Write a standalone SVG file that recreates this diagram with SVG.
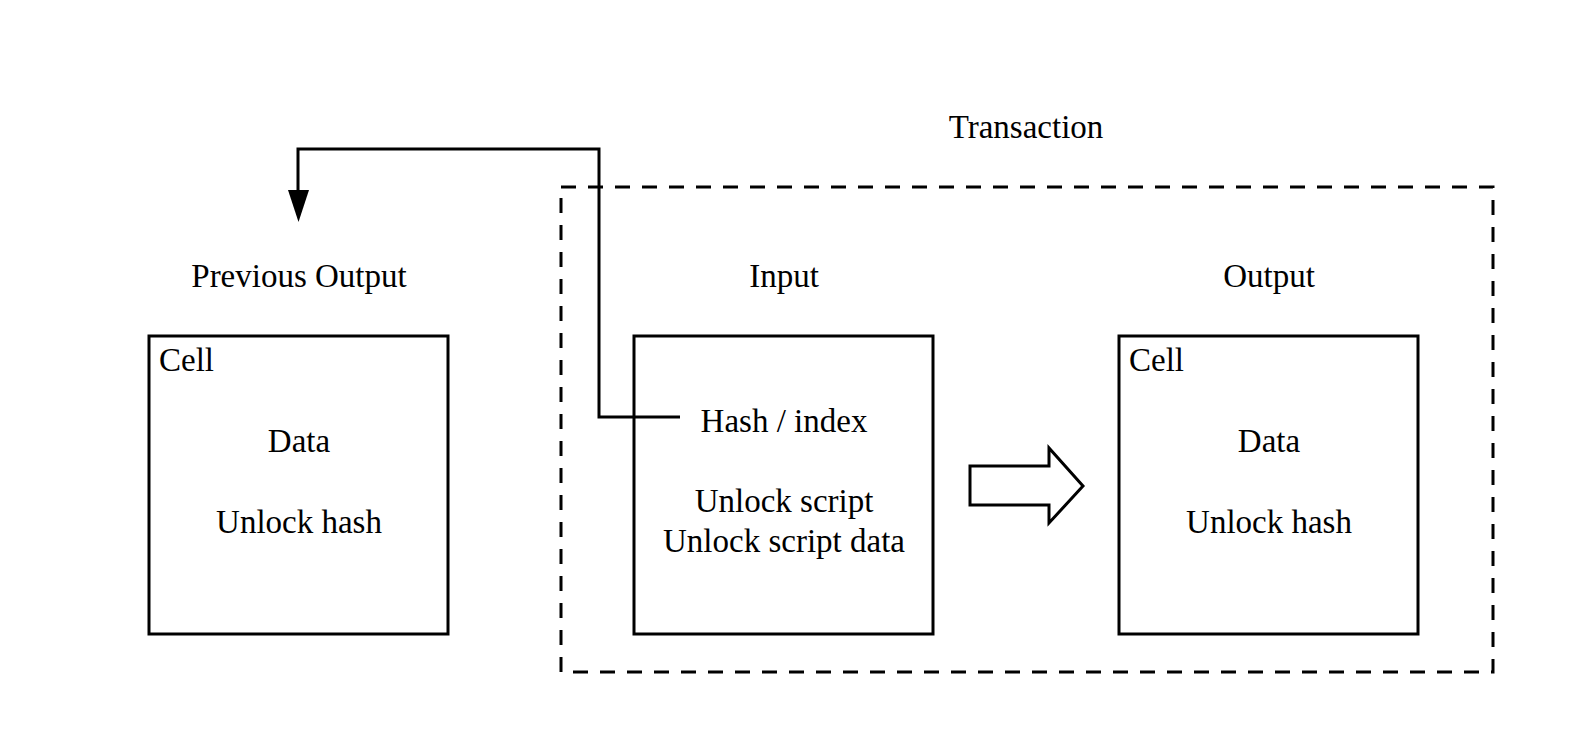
<svg xmlns="http://www.w3.org/2000/svg" width="1575" height="750" viewBox="0 0 1575 750">
<defs>
<style>
text{font-family:"Liberation Serif","Times New Roman",serif;font-size:33px;fill:#000}
.c{text-anchor:middle}
.box{fill:#fff;stroke:#000;stroke-width:3}
.dash{fill:none;stroke:#000;stroke-width:3;stroke-dasharray:15 12}
.line{fill:none;stroke:#000;stroke-width:3}
</style>
<marker id="arr" markerWidth="22" markerHeight="34" refX="11" refY="32" orient="auto-start-reverse" markerUnits="userSpaceOnUse" viewBox="0 0 22 34">
<path d="M0,0 L22,0 L11,32 Z" fill="#000"/>
</marker>
</defs>
<rect width="1575" height="750" fill="#fff"/>
<g id="transaction">
<rect class="dash" x="561" y="187" width="932" height="485"/>
<text class="c" x="1026" y="138">Transaction</text>
</g>
<g id="previous-output">
<text class="c" x="299" y="287">Previous Output</text>
<rect class="box" x="149" y="336" width="299" height="298"/>
<text x="159" y="371">Cell</text>
<text class="c" x="299" y="452">Data</text>
<text class="c" x="299" y="533">Unlock hash</text>
</g>
<g id="input">
<text class="c" x="784" y="287">Input</text>
<rect class="box" x="634" y="336" width="299" height="298"/>
<text class="c" x="784" y="432">Hash / index</text>
<text class="c" x="784" y="512">Unlock script</text>
<text class="c" x="784" y="552">Unlock script data</text>
</g>
<g id="output">
<text class="c" x="1269" y="287">Output</text>
<rect class="box" x="1119" y="336" width="299" height="298"/>
<text x="1129" y="371">Cell</text>
<text class="c" x="1269" y="452">Data</text>
<text class="c" x="1269" y="533">Unlock hash</text>
</g>
<g id="connectors">
<path class="line" d="M680,417 H599 V149 H298 V190"/>
<path d="M288,190 L309,190 L298.5,222 Z" fill="#000"/>
<path d="M970,466 H1049 V448 L1083,486 L1049,523 V505 H970 Z" fill="#fff" stroke="#000" stroke-width="3" stroke-linejoin="miter"/>
</g>
</svg>
